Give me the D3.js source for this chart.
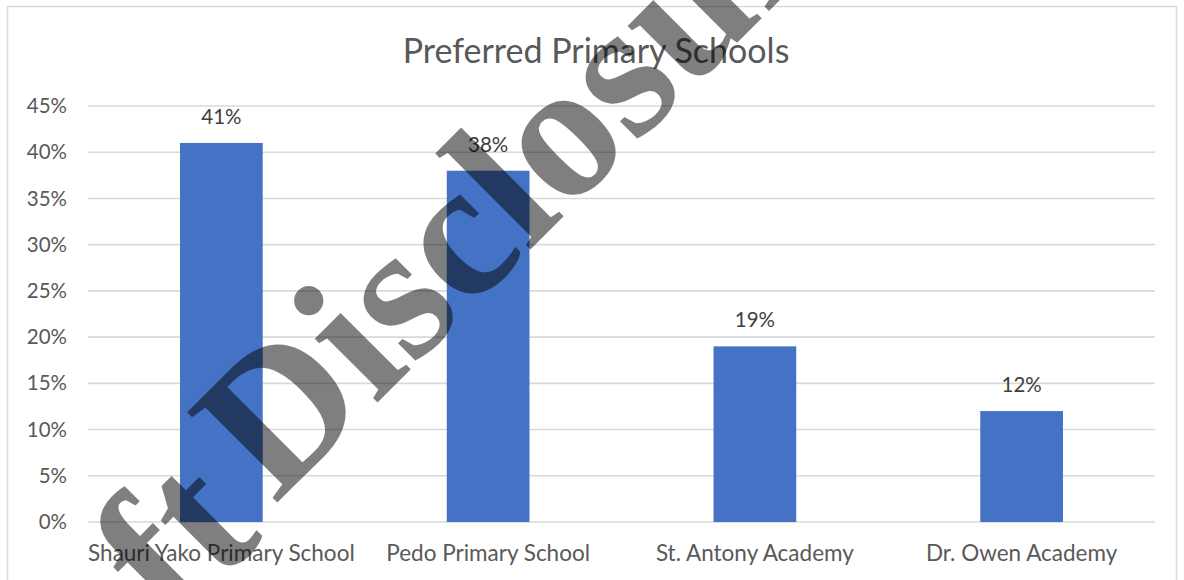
<!DOCTYPE html>
<html>
<head>
<meta charset="utf-8">
<script src="https://cdn.jsdelivr.net/npm/d3@7"></script>
<style>
  html, body { margin: 0; padding: 0; background: #ffffff; }
  svg { display: block; }
</style>
</head>
<body>
<svg id="chart" width="1184" height="580"></svg>
<script>
const categories = ["Shauri Yako Primary School", "Pedo Primary School", "St. Antony Academy", "Dr. Owen Academy"];
const values = [0.41, 0.38, 0.19, 0.12];
const yTicks = [0, 0.05, 0.10, 0.15, 0.20, 0.25, 0.30, 0.35, 0.40, 0.45];
const chartTitle = "Preferred Primary Schools";
const watermarkWords = ["Draft", "Disclosure"];

const svg = d3.select("#chart");
const font = "Lato, 'Open Sans', sans-serif";

// frame
svg.append("rect").attr("x", 7.5).attr("y", 6.5).attr("width", 1169).attr("height", 590)
  .attr("fill", "#ffffff").attr("stroke", "#d9d9d9").attr("stroke-width", 1.5);

const plot = { left: 88, right: 1155, top: 106, bottom: 522 };

const x = d3.scaleBand().domain(categories).range([plot.left, plot.right])
  .paddingInner(0.69).paddingOuter(0.345);
const y = d3.scaleLinear().domain([0, 0.45]).range([plot.bottom, plot.top]);

// gridlines
svg.append("g").selectAll("line").data(yTicks).join("line")
  .attr("x1", plot.left).attr("x2", plot.right)
  .attr("y1", d => y(d)).attr("y2", d => y(d))
  .attr("stroke", "#d9d9d9").attr("stroke-width", 1.6);

// y axis labels
const yAxis = d3.axisLeft(y).tickValues(yTicks).tickFormat(d3.format(".0%")).tickSize(0).tickPadding(0);
const gy = svg.append("g").attr("transform", `translate(67,0)`).call(yAxis);
gy.select(".domain").remove();
gy.selectAll("text").attr("font-family", font).attr("font-size", 20.5).attr("fill", "#595959");

// bars
svg.append("g").selectAll("rect").data(values).join("rect")
  .attr("x", (d, i) => x(categories[i]))
  .attr("width", x.bandwidth())
  .attr("y", d => y(d))
  .attr("height", d => y(0) - y(d))
  .attr("fill", "#4472c4");

// data labels
svg.append("g").selectAll("text").data(values).join("text")
  .attr("x", (d, i) => x(categories[i]) + x.bandwidth() / 2)
  .attr("y", d => y(d) - 19)
  .attr("text-anchor", "middle")
  .attr("font-family", font).attr("font-size", 20.5).attr("fill", "#404040")
  .text(d => d3.format(".0%")(d));

// x axis labels
const xAxis = d3.axisBottom(x).tickSize(0).tickPadding(0);
const gx = svg.append("g").attr("transform", `translate(0,${plot.bottom})`).call(xAxis);
gx.select(".domain").remove();
gx.selectAll("text").attr("y", 39).attr("dy", 0)
  .attr("font-family", font).attr("font-size", 22.5).attr("fill", "#595959");

// title
svg.append("text").attr("x", 596).attr("y", 63).attr("text-anchor", "middle")
  .attr("font-family", font).attr("font-size", 34).attr("fill", "#595959")
  .text(chartTitle);

// watermark
const wmSize = 195;
const wm = svg.append("g")
  .attr("transform", "translate(275,505) rotate(-45)")
  .attr("font-family", "'Liberation Serif', 'Times New Roman', serif")
  .attr("font-weight", "bold")
  .attr("font-size", wmSize)
  .attr("fill", "#000000").attr("fill-opacity", 0.5);
wm.append("text").attr("x", -30).attr("y", 16).attr("text-anchor", "end").text(watermarkWords[0]);
wm.append("text").attr("x", 0).attr("y", 0).attr("text-anchor", "start").text(watermarkWords[1]);
</script>
</body>
</html>
